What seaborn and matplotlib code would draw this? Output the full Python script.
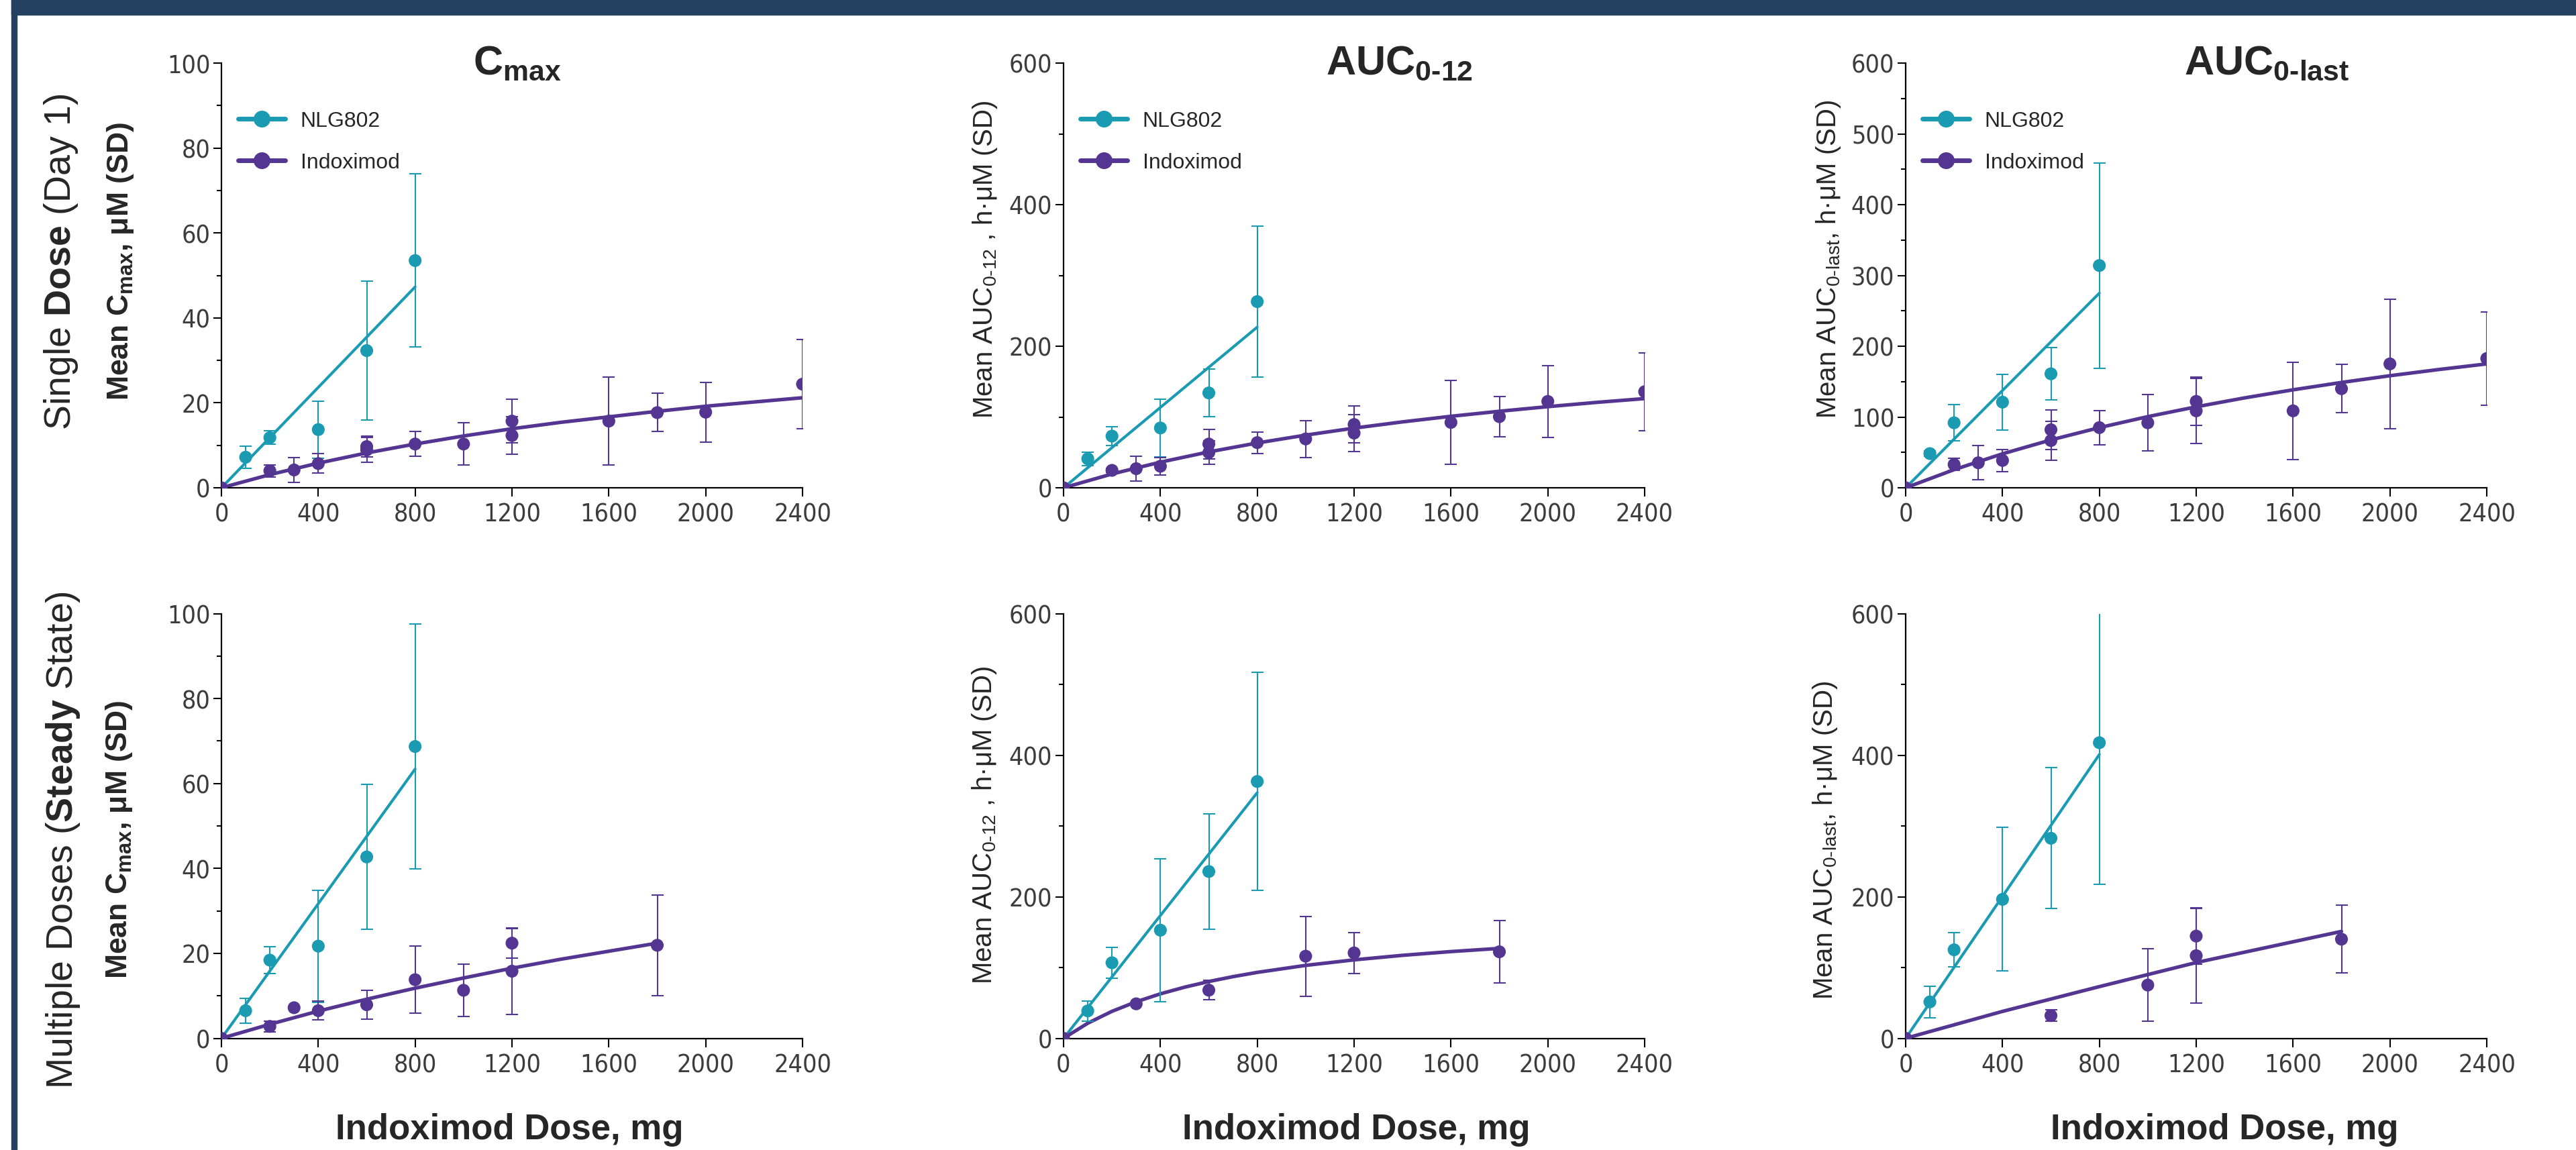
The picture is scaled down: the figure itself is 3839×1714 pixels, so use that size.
import pandas as pd
import matplotlib
matplotlib.use("Agg")
import matplotlib.pyplot as plt
import seaborn as sns
from matplotlib import font_manager
from matplotlib.lines import Line2D
from matplotlib.patches import Rectangle
from matplotlib.ticker import MultipleLocator

# ---- data (dose in mg) ----
nlg_dose = [100, 200, 400, 600, 800]
nlg_fit_dose = [0, 800]
fit_dose = [0, 200, 400, 600, 800, 1000, 1200, 1400, 1600, 1800, 2000, 2200, 2400]
fit_dose_md = [0, 200, 400, 600, 800, 1000, 1200, 1400, 1600, 1800]
fit_dose_md12 = [0, 100, 200, 300, 400, 500, 600, 700, 800, 1000, 1200, 1400, 1600, 1800]

# single dose (day 1)
sd_ind_dose = [0, 200, 300, 400, 600, 600, 800, 1000, 1200, 1200, 1600, 1800, 2000, 2400]

sd_cmax_nlg = [7.2, 11.8, 13.7, 32.3, 53.5]
sd_cmax_nlg_err = [2.6, 1.6, 6.7, 16.3, 20.4]
sd_cmax_nlg_fit = [0, 47.3]
sd_cmax_ind = [0, 4.0, 4.2, 5.7, 9.7, 8.9, 10.3, 10.3, 15.7, 12.3, 15.7, 17.7, 17.8, 24.4]
sd_cmax_ind_err = [0, 1.4, 2.9, 2.3, 2.4, 2.9, 2.9, 5.0, 5.1, 4.4, 10.4, 4.5, 7.0, 10.5]
sd_cmax_ind_fit = [0, 3.1, 5.8, 8.2, 10.3, 12.2, 13.9, 15.4, 16.7, 18.0, 19.2, 20.2, 21.2]

sd_auc12_nlg = [41, 73, 84.5, 134, 263]
sd_auc12_nlg_err = [9.5, 13.5, 40.5, 33.5, 107]
sd_auc12_nlg_fit = [0, 227]
sd_auc12_ind = [0, 24.6, 27, 30.4, 61.8, 49.8, 63.8, 69, 89.4, 77.3, 92.3, 100.5, 122, 135.7]
sd_auc12_ind_err = [0, 3, 17.5, 12, 21, 16.5, 15.2, 26, 26, 26, 59.5, 28, 50.5, 55]
sd_auc12_ind_fit = [0, 19.5, 36.2, 50.7, 63.3, 74.4, 84.3, 93.1, 101.0, 108.1, 114.6, 120.6, 126.0]

sd_auclast_nlg = [48.3, 91.8, 121, 161, 314]
sd_auclast_nlg_err = [4, 25.5, 39.5, 37, 145]
sd_auclast_nlg_fit = [0, 275]
sd_auclast_ind = [0, 32.9, 35.3, 38.6, 82, 66.7, 85, 91.8, 122, 108.7, 108.7, 140, 175, 182.6]
sd_auclast_ind_err = [0, 8.5, 24, 15.5, 28, 27.5, 24, 40, 34, 46, 69, 34, 91.5, 66]
sd_auclast_ind_fit = [0, 25.6, 48.0, 67.6, 85.0, 100.5, 114.4, 127.0, 138.4, 148.8, 158.3, 167.0, 175.0]

# multiple doses (steady state)
md_cmax_nlg = [6.5, 18.4, 21.7, 42.7, 68.7]
md_cmax_nlg_err = [2.9, 3.1, 13.2, 17.1, 28.8]
md_cmax_nlg_fit = [0, 63.4]
md_cmax_ind_dose = [0, 200, 300, 400, 600, 800, 1000, 1200, 1200, 1800]
md_cmax_ind = [0, 2.8, 7.2, 6.5, 7.9, 13.8, 11.3, 22.4, 15.8, 21.9]
md_cmax_ind_err = [0, 1.3, 0, 2.2, 3.4, 7.9, 6.1, 3.5, 10.2, 11.9]
md_cmax_ind_fit = [0, 3.3, 6.4, 9.2, 11.8, 14.2, 16.5, 18.6, 20.5, 22.4]

md_auc12_nlg = [38.7, 106.7, 152.7, 235.6, 362.8]
md_auc12_nlg_err = [14.3, 22.2, 101, 81.5, 154]
md_auc12_nlg_fit = [0, 347]
md_auc12_ind_dose = [0, 300, 600, 1000, 1200, 1800]
md_auc12_ind = [0, 48.7, 68, 116, 120.6, 122.2]
md_auc12_ind_err = [0, 0, 13.8, 56.5, 29, 43.8]
md_auc12_ind_fit = [0, 21.3, 38.1, 51.6, 62.8, 72.2, 80.2, 87.1, 93.1, 103.0, 110.8, 117.2, 122.5, 127.0]

md_auclast_nlg = [51.4, 125, 196.3, 282.6, 417.6]
md_auclast_nlg_err = [22.2, 24.2, 101.5, 99.5, 200]
md_auclast_nlg_fit = [0, 401]
md_auclast_ind_dose = [0, 600, 1000, 1200, 1200, 1800]
md_auclast_ind = [0, 32.1, 75.2, 144.4, 116.7, 140]
md_auclast_ind_err = [0, 8.3, 51, 40, 67, 48]
md_auclast_fit_dose = [0, 400, 800, 1200, 1800]
md_auclast_ind_fit = [0, 38, 73, 107, 151]

x_ticks = [0, 400, 800, 1200, 1600, 2000, 2400]
series_names = ["NLG802", "Indoximod"]

# ---- style ----
sns.set_theme(style="ticks")
names = {f.name for f in font_manager.fontManager.ttflist}
narrow = "Liberation Sans Narrow" if "Liberation Sans Narrow" in names else "DejaVu Sans"
plt.rcParams["font.family"] = ["Liberation Sans", "DejaVu Sans"]
plt.rcParams["mathtext.fontset"] = "custom"
plt.rcParams["mathtext.rm"] = "Liberation Sans"
plt.rcParams["mathtext.it"] = "Liberation Sans"
plt.rcParams["mathtext.bf"] = "Liberation Sans:bold"

CYAN = "#1a9bb2"
PURPLE = "#553592"
NAVY = "#264061"
TICK_GRAY = "#3c3c3c"

W, H = 3839, 1715
fig = plt.figure(figsize=(W / 100, H / 100), dpi=100)
fig.patch.set_facecolor("white")


def fx(x):
    return x / W


def fy(y):
    return 1 - y / H


# frame bars
fig.patches.append(Rectangle((fx(17), fy(23)), 1 - fx(17), 23 / H, transform=fig.transFigure,
                             color=NAVY, zorder=0))
fig.patches.append(Rectangle((fx(17), 0), 8 / W, 1, transform=fig.transFigure, color=NAVY, zorder=0))

col_left = [330, 1585, 2840]
col_w = 866
row_top = [95, 915.5]
row_h = 633


def draw_panel(ax, nlg_mean, nlg_err, nlg_fit, ind_dose, ind_mean, ind_err, ind_fit_dose, ind_fit,
               ymax, major, minor):
    fit_n = pd.DataFrame({"dose": nlg_fit_dose, "val": nlg_fit})
    fit_i = pd.DataFrame({"dose": ind_fit_dose, "val": ind_fit})
    pts_n = pd.DataFrame({"dose": nlg_dose, "val": nlg_mean, "err": nlg_err})
    pts_i = pd.DataFrame({"dose": ind_dose, "val": ind_mean, "err": ind_err})

    sns.lineplot(data=fit_n, x="dose", y="val", ax=ax, color=CYAN, lw=3.0, estimator=None, sort=False)
    sns.lineplot(data=fit_i, x="dose", y="val", ax=ax, color=PURPLE, lw=3.8, estimator=None, sort=False)
    for pts, c in ((pts_n, CYAN), (pts_i, PURPLE)):
        ax.errorbar(pts["dose"], pts["val"], yerr=pts["err"], fmt="none", ecolor=c,
                    elinewidth=1.5, capsize=6.5, capthick=1.5, zorder=3)
        sns.scatterplot(data=pts, x="dose", y="val", ax=ax, color=c, s=190, edgecolor="none",
                        linewidth=0, zorder=4)

    ax.set_xlim(0, 2400)
    ax.set_ylim(0, ymax)
    ax.set_xticks(x_ticks)
    ax.yaxis.set_major_locator(MultipleLocator(major))
    ax.yaxis.set_minor_locator(MultipleLocator(minor))
    ax.set_xlabel("")
    ax.set_ylabel("")
    sns.despine(ax=ax)
    for s in ("left", "bottom"):
        ax.spines[s].set_linewidth(1.6)
        ax.spines[s].set_color("black")
    ax.tick_params(axis="y", which="major", length=8.5, width=1.5, pad=3.5, colors="black",
                   labelcolor=TICK_GRAY, labelsize=27)
    ax.tick_params(axis="y", which="minor", length=5, width=1.5, colors="black")
    ax.tick_params(axis="x", which="major", length=9.5, width=1.5, pad=6, colors="black",
                   labelcolor=TICK_GRAY, labelsize=27)
    for lab in ax.get_xticklabels() + ax.get_yticklabels():
        lab.set_family(narrow)
        if narrow == "DejaVu Sans":
            lab.set_stretch("condensed")
    ax.set_facecolor("none")


panels = [
    # row 0
    (sd_cmax_nlg, sd_cmax_nlg_err, sd_cmax_nlg_fit, sd_ind_dose, sd_cmax_ind, sd_cmax_ind_err,
     fit_dose, sd_cmax_ind_fit, 100, 20, 10),
    (sd_auc12_nlg, sd_auc12_nlg_err, sd_auc12_nlg_fit, sd_ind_dose, sd_auc12_ind, sd_auc12_ind_err,
     fit_dose, sd_auc12_ind_fit, 600, 200, 100),
    (sd_auclast_nlg, sd_auclast_nlg_err, sd_auclast_nlg_fit, sd_ind_dose, sd_auclast_ind,
     sd_auclast_ind_err, fit_dose, sd_auclast_ind_fit, 600, 100, 50),
    # row 1
    (md_cmax_nlg, md_cmax_nlg_err, md_cmax_nlg_fit, md_cmax_ind_dose, md_cmax_ind, md_cmax_ind_err,
     fit_dose_md, md_cmax_ind_fit, 100, 20, 10),
    (md_auc12_nlg, md_auc12_nlg_err, md_auc12_nlg_fit, md_auc12_ind_dose, md_auc12_ind,
     md_auc12_ind_err, fit_dose_md12, md_auc12_ind_fit, 600, 200, 100),
    (md_auclast_nlg, md_auclast_nlg_err, md_auclast_nlg_fit, md_auclast_ind_dose, md_auclast_ind,
     md_auclast_ind_err, md_auclast_fit_dose, md_auclast_ind_fit, 600, 200, 100),
]

axes = []
for i, p in enumerate(panels):
    r, c = divmod(i, 3)
    ax = fig.add_axes([fx(col_left[c]), fy(row_top[r] + row_h), col_w / W, row_h / H])
    draw_panel(ax, *p)
    axes.append(ax)

# legends (top row only)
handles = [Line2D([0], [0], color=CYAN, lw=5, marker="o", ms=17),
           Line2D([0], [0], color=PURPLE, lw=5, marker="o", ms=17)]
for ax in axes[:3]:
    ax.legend(handles, series_names, loc="upper left", bbox_to_anchor=(0.029, 0.888),
              frameon=False, fontsize=23, borderaxespad=0, borderpad=0,
              handlelength=2.2, handletextpad=0.7, labelspacing=1.0)

# titles
titles = [r"$\mathbf{C_{max}}$", r"$\mathbf{AUC_{0‐12}}$", r"$\mathbf{AUC_{0‐last}}$"]
for t, x in zip(titles, [705, 1976, 3255]):
    fig.text(fx(x), fy(110), t, fontsize=44, ha="left", va="baseline")

# row labels
fig.text(fx(91), fy(390), r"Single $\mathbf{Dose}$ (Day 1)", rotation=90, fontsize=40,
         ha="center", va="center")
fig.text(fx(94), fy(1252), r"Multiple Doses ($\mathbf{Steady}$ State)", rotation=90, fontsize=40,
         ha="center", va="center")

# y labels
cmax_lab = r"Mean C$_{\mathbf{max}}$, μM (SD)"
fig.text(fx(180), fy(390), cmax_lab, rotation=90, fontsize=32, fontweight="bold",
         ha="center", va="center")
fig.text(fx(178), fy(1252), cmax_lab, rotation=90, fontsize=32, fontweight="bold",
         ha="center", va="center")
auc12_lab = r"Mean AUC$_{0‐12}$ , h·μM (SD)"
fig.text(fx(1468), fy(387), auc12_lab, rotation=90, fontsize=29, ha="center", va="center")
fig.text(fx(1467), fy(1230), auc12_lab, rotation=90, fontsize=29, ha="center", va="center")
auclast_lab = r"Mean AUC$_{0‐last}$, h·μM (SD)"
fig.text(fx(2725), fy(386), auclast_lab, rotation=90, fontsize=29, ha="center", va="center")
fig.text(fx(2720), fy(1252), auclast_lab, rotation=90, fontsize=29, ha="center", va="center")

# x labels
for x in [759, 2021, 3315]:
    fig.text(fx(x), fy(1698), "Indoximod Dose, mg", fontsize=38, fontweight="bold",
             ha="center", va="baseline")

fig.savefig("out.png", dpi=100, facecolor="white")
